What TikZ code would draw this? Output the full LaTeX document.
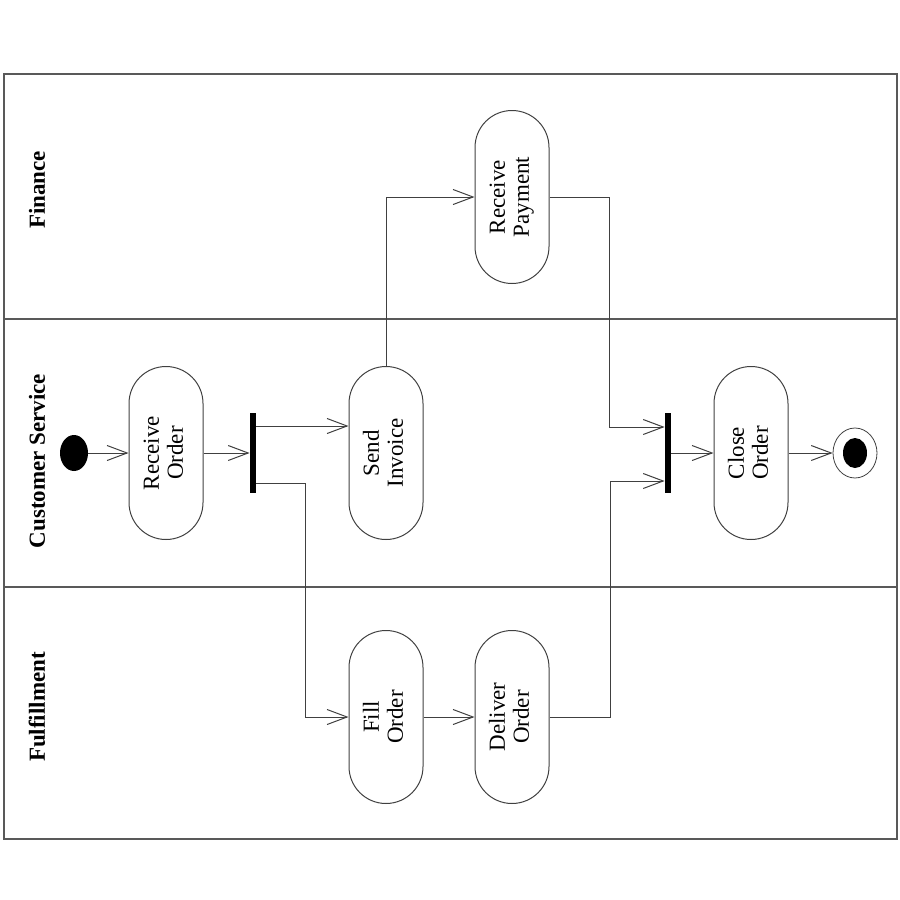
\documentclass[tikz,border=0pt]{standalone}
\usepackage{fontspec}
\setmainfont{Liberation Serif}
\usepackage{graphicx}
\usetikzlibrary{arrows.meta,shapes.geometric}
\newcommand{\actlabel}[2]{\rotatebox{90}{\begin{tabular}{@{}c@{}}#1\\#2\end{tabular}}}

\begin{document}
\begin{tikzpicture}[x=0.5pt,y=-0.5pt,
  lane/.style={draw=black!65,line width=0.6pt},
  activity/.style={draw=black!75,line width=0.5pt,rectangle,rounded corners=18.5pt,minimum width=37pt,minimum height=86.5pt,inner sep=0pt,font=\fontsize{11.5}{12}\selectfont},
  bar/.style={fill=black,inner sep=0pt,minimum width=3pt,minimum height=40pt},
  flow/.style={draw=black!75,line width=0.5pt,-{Straight Barb[length=10pt,width=7.5pt]}},
  lanename/.style={rotate=90,font=\fontsize{11.5}{12}\selectfont\bfseries}]
\useasboundingbox (0,0) rectangle (900,900);
\draw[lane] (4,74) rectangle (897,839);
\draw[lane] (4,319) -- (897,319);
\draw[lane] (4,587) -- (897,587);
\node[lanename] (finance) at (37,190) {Finance};
\node[lanename] (custserv) at (37,461) {Customer Service};
\node[lanename] (fulfil) at (37,707) {Fulfillment};

\node[ellipse,fill,minimum width=14pt,minimum height=18pt,inner sep=0pt] (start) at (74,453) {};
\node[activity] (record) at (166,453) {\actlabel{Receive}{Order}};
\node[bar] (fork) at (253,453) {};
\node[activity] (sendinv) at (386,453) {\actlabel{Send}{Invoice}};
\node[activity] (recpay) at (512,197) {\actlabel{Receive}{Payment}};
\node[activity] (fillord) at (386,717) {\actlabel{Fill}{Order}};
\node[activity] (delord) at (512,717) {\actlabel{Deliver}{Order}};
\node[bar] (join) at (668,453) {};
\node[activity] (closeord) at (751,453) {\actlabel{Close}{Order}};
\node[draw=black!75,ellipse,minimum width=22pt,minimum height=25pt,inner sep=0pt] (final) at (855,453) {};
\node[ellipse,fill,minimum width=12pt,minimum height=15pt,inner sep=0pt] (finaldot) at (855,453) {};

\path ([yshift=13.5pt]fork.east) coordinate (forktop) ([yshift=-15pt]fork.east) coordinate (forkbot);
\path ([yshift=13pt]join.west) coordinate (jointop) ([yshift=-14pt]join.west) coordinate (joinbot);
\draw[flow] (start) -- (record);
\draw[flow] (record) -- (fork);
\draw[flow] (forktop) -- (forktop -| sendinv.west);
\draw[flow] (forkbot) -- ++(49,0) |- (fillord.west);
\draw[flow] (sendinv.north) |- (recpay.west);
\draw[flow] (fillord) -- (delord);
\draw[flow] (recpay.east) -- ++(60,0) |- (jointop);
\draw[flow] (delord.east) -- ++(61,0) |- (joinbot);
\draw[flow] (join) -- (closeord);
\draw[flow] (closeord) -- (final);

\end{tikzpicture}
\end{document}
